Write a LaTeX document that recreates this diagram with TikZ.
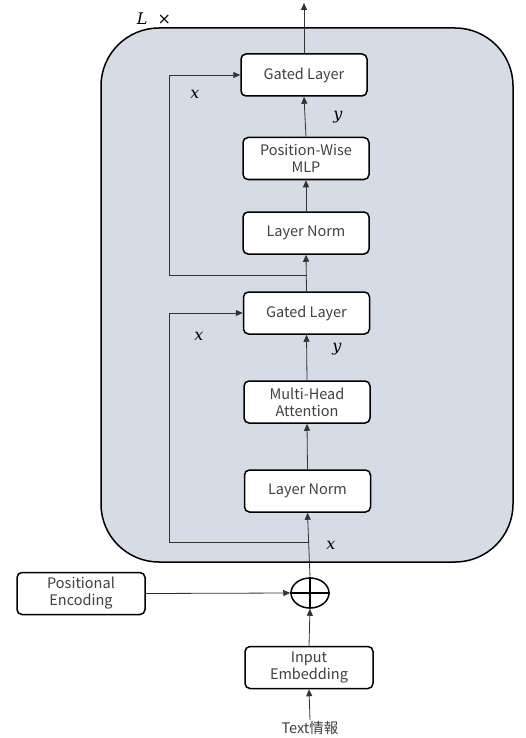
\documentclass[tikz,border=0pt]{standalone}
\usepackage{fontspec}
\setmainfont{Noto Sans CJK JP}
\newfontfamily\labfont{DejaVu Serif}
\usetikzlibrary{arrows.meta,shapes.geometric}
\definecolor{panel}{HTML}{D6DCE5}
\definecolor{txt}{HTML}{404040}
\tikzset{
  blk/.style={draw=black, line width=1.5pt, fill=white, rounded corners=5pt, minimum width=126pt, minimum height=42pt, align=center, text=txt, font=\fontsize{14.5}{17}\selectfont, inner sep=1pt},
  conn/.style={draw=black!80, line width=0.8pt},
  arr/.style={conn, -{Triangle[length=7pt,width=6pt]}},
  lab/.style={font=\labfont\itshape\fontsize{16}{19}\selectfont}
}
\begin{document}
\begin{tikzpicture}[x=1pt,y=-1pt]
\useasboundingbox (0,0) rectangle (525,738);
\fill[white] (0,0) rectangle (525,738);
\draw[line width=1.5pt, fill=panel, rounded corners=58pt] (101,28) rectangle (513,562);
\node[lab] (L) at (154,19) {L\ \ \upshape×};
% nodes
\node[blk] (g2) at (304,75) {Gated Layer};
\node[blk] (mlp) at (306,158.5) {Position-Wise\\MLP};
\node[blk] (ln2) at (306,233) {Layer Norm};
\node[blk] (g1) at (306.5,313) {Gated Layer};
\node[blk] (mha) at (307,402) {Multi-Head\\Attention};
\node[blk] (ln1) at (307.5,491) {Layer Norm};
\node[blk, minimum width=128pt] (pe) at (81,593.5) {Positional\\Encoding};
\node[draw=black, line width=1.5pt, ellipse, minimum width=38pt, minimum height=30pt, inner sep=0pt] (plus) at (310,593) {};
\draw[line width=1.5pt] (plus.north) -- (plus.south) (plus.west) -- (plus.east);
\node[blk, minimum width=128pt] (emb) at (309,667.5) {Input\\Embedding};
\node[text=txt, font=\fontsize{14.5}{17}\selectfont, inner sep=1pt] (txtin) at (310,728) {Text情報};
\coordinate (top) at (304,3);
\coordinate (b1) at (309,542);
\coordinate (b2) at (307,275);
% connectors
\draw[arr] (txtin.north) -- (emb.south);
\draw[arr] (emb.north) -- (plus.south);
\draw[arr] (pe.east) -- (plus.west);
\draw[arr] (plus.north) -- (ln1.south);
\draw[arr] (ln1.north) -- (mha.south);
\draw[arr] (mha.north) -- (g1.south);
\draw[arr] (b1) -- (169,542) -- (169,313) -- (g1.west);
\draw[arr] (g1.north) -- (ln2.south);
\draw[arr] (ln2.north) -- (mlp.south);
\draw[arr] (mlp.north) -- (g2.south);
\draw[arr] (b2) -- (169,275) -- (169,75) -- (g2.west);
\draw[arr] (g2.north) -- (top);
% labels
\node[lab] (x1) at (331,545) {x};
\node[lab] (x2) at (199,336) {x};
\node[lab] (y1) at (337,349) {y};
\node[lab] (x3) at (195,94) {x};
\node[lab] (y2) at (338,117) {y};
\end{tikzpicture}
\end{document}
